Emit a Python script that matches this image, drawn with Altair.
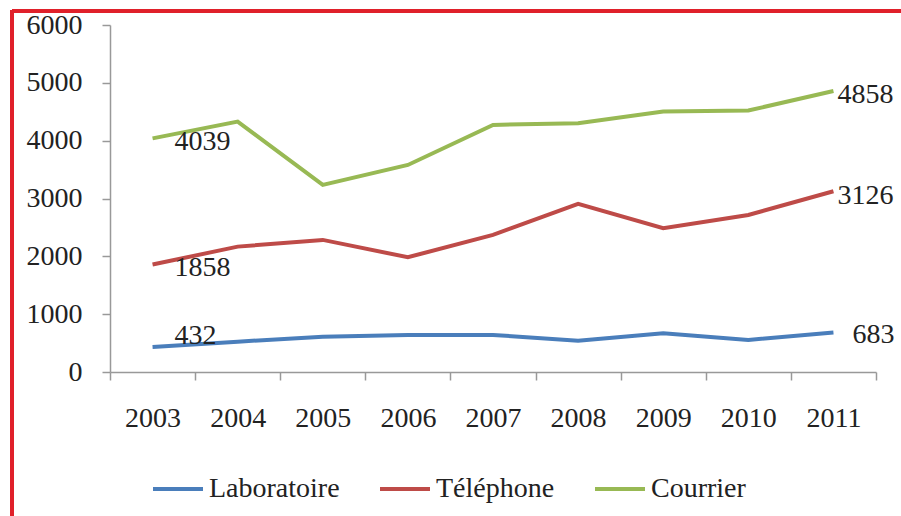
import altair as alt
import pandas as pd

years = ["2003", "2004", "2005", "2006", "2007", "2008", "2009", "2010", "2011"]
laboratoire = [432, 524, 611, 640, 640, 542, 669, 554, 683]
telephone = [1858, 2168, 2284, 1984, 2370, 2907, 2486, 2716, 3126]
courrier = [4039, 4330, 3235, 3580, 4273, 4300, 4503, 4521, 4858]
series_names = ["Laboratoire", "Téléphone", "Courrier"]
series_colors = ["#4a7ebb", "#be4b48", "#98b954"]
y_ticks = [0, 1000, 2000, 3000, 4000, 5000, 6000]

rows = []
for name, vals in zip(series_names, [laboratoire, telephone, courrier]):
    for yr, v in zip(years, vals):
        rows.append({"year": yr, "value": v, "series": name})
df = pd.DataFrame(rows)

FONT = "Liberation Serif"
FS = 28

x_enc = alt.X("year:O", bandPosition=0.5,
              scale=alt.Scale(type="band", domain=years, paddingInner=0, paddingOuter=0),
              axis=alt.Axis(title=None, labelAngle=0, tickBand="extent", tickSize=8,
                            labelPadding=24, domainColor="#999999", tickColor="#999999",
                            labelFont=FONT, labelFontSize=FS, labelColor="#222222",
                            domainWidth=1.5, tickWidth=1.5))
y_enc = alt.Y("value:Q", scale=alt.Scale(domain=[0, 6000], nice=False),
              axis=alt.Axis(title=None, values=y_ticks, format="d", tickSize=8, labelPadding=20,
                            grid=False, domainColor="#999999", tickColor="#999999",
                            labelFont=FONT, labelFontSize=FS, labelColor="#222222",
                            domainWidth=1.5, tickWidth=1.5))

color_enc = alt.Color("series:N",
                      scale=alt.Scale(domain=series_names, range=series_colors),
                      legend=alt.Legend(title=None, orient="none", direction="horizontal",
                                        legendX=41, legendY=437,
                                        symbolType="stroke", symbolSize=2500,
                                        symbolStrokeWidth=4, labelOffset=4,
                                        columnPadding=32,
                                        labelFont=FONT, labelFontSize=FS,
                                        labelColor="#222222", labelLimit=300))

base = alt.Chart(df)
lines = base.mark_line(strokeWidth=4).encode(x=x_enc, y=y_enc, color=color_enc)

first_year, last_year = years[0], years[-1]
text_layers = []
offsets = {
    ("Courrier", "first"): (22, 4), ("Téléphone", "first"): (22, 3), ("Laboratoire", "first"): (22, -11),
    ("Courrier", "last"): (4, 4), ("Téléphone", "last"): (4, 5), ("Laboratoire", "last"): (19, 3),
}
for (name, which), (dx, dy) in offsets.items():
    yr = first_year if which == "first" else last_year
    t = base.transform_filter(
        (alt.datum.series == name) & (alt.datum.year == yr)
    ).mark_text(align="left", baseline="middle", dx=dx, dy=dy, font=FONT,
                fontSize=FS, color="#222222").encode(
        x=alt.X("year:O", bandPosition=0.5), y="value:Q", text="value:Q")
    text_layers.append(t)

border_top = alt.Chart(df).mark_rule(color="#e0202a", strokeWidth=3).encode(
    x=alt.value(-98), x2=alt.value(800), y=alt.value(-14))
border_left = alt.Chart(df).mark_rule(color="#e0202a", strokeWidth=3).encode(
    x=alt.value(-98), y=alt.value(-15), y2=alt.value(500))

chart = alt.layer(lines, *text_layers, border_top, border_left).properties(
    width=766, height=347,
    autosize=alt.AutoSizeParams(type="none"),
    padding={"left": 110, "top": 25, "right": 25, "bottom": 144},
    background="white",
).configure_view(stroke=None)

chart.save("out.html", embed_options={"renderer": "svg", "actions": False})
